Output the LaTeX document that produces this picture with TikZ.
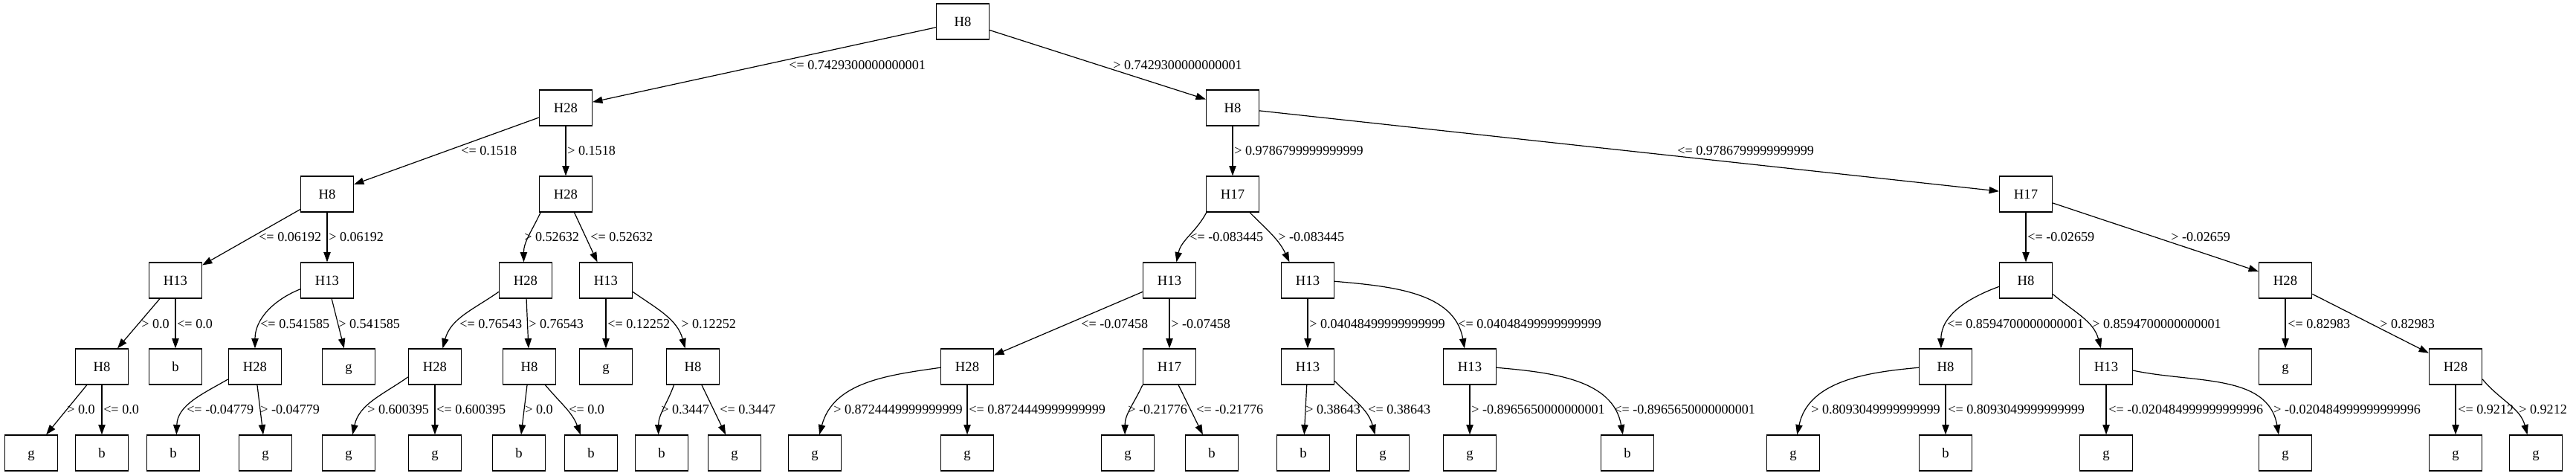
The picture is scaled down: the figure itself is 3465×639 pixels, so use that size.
\documentclass[tikz,border=0pt]{standalone}
\usepackage{fontspec}
\setmainfont{Liberation Serif}
\usetikzlibrary{arrows.meta}
\begin{document}
\begin{tikzpicture}[x=0.75pt,y=-0.75pt,
  box/.style={draw, line width=0.9pt, minimum width=53.25pt, minimum height=36pt, inner sep=0pt,
    text height=12pt, text depth=3pt, font=\fontsize{14}{16}\selectfont},
  lbl/.style={anchor=west, inner sep=0pt, text height=12pt, text depth=3pt, font=\fontsize{13.6}{16}\selectfont},
  conn/.style={draw, line width=0.9pt, -{Triangle[length=10pt,width=7pt]}}]
\useasboundingbox (0,0) rectangle (3465,639);
% level 0-2
\node[box] (r) at (1295,29) {H8};
\node[box] (a) at (761,145) {H28};
\node[box] (b) at (1658,145) {H8};
\node[box] (aa) at (440,261) {H8};
\node[box] (ab) at (761,261) {H28};
\node[box] (ba) at (1658,261) {H17};
\node[box] (bb) at (2725,261) {H17};
% level 3
\node[box] (aaa) at (236,377) {H13};
\node[box] (aab) at (440,377) {H13};
\node[box] (aba) at (707,377) {H28};
\node[box] (abb) at (815,377) {H13};
\node[box] (baa) at (1573,377) {H13};
\node[box] (bab) at (1759,377) {H13};
\node[box] (bba) at (2725,377) {H8};
\node[box] (bbb) at (3074,377) {H28};
% level 4
\node[box] (aaaa) at (137,493) {H8};
\node[box] (aaab) at (236,493) {b};
\node[box] (aaba) at (343,493) {H28};
\node[box] (aabb) at (469,493) {g};
\node[box] (abaa) at (585,493) {H28};
\node[box] (abab) at (712,493) {H8};
\node[box] (abba) at (815,493) {g};
\node[box] (abbb) at (932,493) {H8};
\node[box] (baaa) at (1301,493) {H28};
\node[box] (baab) at (1573,493) {H17};
\node[box] (baba) at (1759,493) {H13};
\node[box] (babb) at (1977,493) {H13};
\node[box] (bbaa) at (2617,493) {H8};
\node[box] (bbab) at (2833,493) {H13};
\node[box] (bbba) at (3074,493) {g};
\node[box] (bbbb) at (3303,493) {H28};
% level 5
\node[box] (aaaa1) at (42,609) {g};
\node[box] (aaaa2) at (137,609) {b};
\node[box] (aaba1) at (233,609) {b};
\node[box] (aaba2) at (357,609) {g};
\node[box] (abaa1) at (469,609) {g};
\node[box] (abaa2) at (585,609) {g};
\node[box] (abab1) at (698,609) {b};
\node[box] (abab2) at (795,609) {b};
\node[box] (abbb1) at (890,609) {b};
\node[box] (abbb2) at (988,609) {g};
\node[box] (baaa1) at (1096,609) {g};
\node[box] (baaa2) at (1301,609) {g};
\node[box] (baab1) at (1517,609) {g};
\node[box] (baab2) at (1630,609) {b};
\node[box] (baba1) at (1753,609) {b};
\node[box] (baba2) at (1860,609) {g};
\node[box] (babb1) at (1977,609) {g};
\node[box] (babb2) at (2189,609) {b};
\node[box] (bbaa1) at (2412,609) {g};
\node[box] (bbaa2) at (2617,609) {b};
\node[box] (bbab1) at (2833,609) {g};
\node[box] (bbab2) at (3074,609) {g};
\node[box] (bbbb1) at (3303,609) {g};
\node[box] (bbbb2) at (3411,609) {g};
% edges
\draw[conn] (r) -- (a);
\draw[conn] (r) -- (b);
\draw[conn] (a) -- (aa);
\draw[conn] (a) -- (ab);
\draw[conn] (b) -- (ba);
\draw[conn] (b) -- (bb);
\draw[conn] (aa) -- (aaa);
\draw[conn] (aa) -- (aab);
\draw[conn] (ab.-144) to[out=-115,in=90] (aba.96);
\draw[conn] (ab) -- (abb);
\draw[conn] (ba.-145) to[out=-118,in=78] (baa.69);
\draw[conn] (ba.-47) to[out=-45,in=115] (bab.135);
\draw[conn] (bb) -- (bba);
\draw[conn] (bb) -- (bbb);
\draw[conn] (aaa) -- (aaaa);
\draw[conn] (aaa) -- (aaab);
\draw[conn] (aab.198) to[out=-158,in=90] (aaba.north);
\draw[conn] (aab) -- (aabb);
\draw[conn] (aba.-157) to[out=-145,in=75] (abaa.67);
\draw[conn] (aba) -- (abab);
\draw[conn] (abb) -- (abba);
\draw[conn] (abb.-23) to[out=-35,in=105] (abbb.113);
\draw[conn] (baa) -- (baaa);
\draw[conn] (baa) -- (baab);
\draw[conn] (bab) -- (baba);
\draw[conn] (bab.-2) to[out=-5,in=100] (babb.106);
\draw[conn] (bba.-167) to[out=-160,in=90] (bbaa.104);
\draw[conn] (bba.-27) to[out=-40,in=105] (bbab.106);
\draw[conn] (bbb) -- (bbba);
\draw[conn] (bbb) -- (bbbb);
\draw[conn] (aaaa) -- (aaaa1);
\draw[conn] (aaaa) -- (aaaa2);
\draw[conn] (aaba.-155) to[out=-150,in=88] (aaba1.80);
\draw[conn] (aaba) -- (aaba2);
\draw[conn] (abaa.-159) to[out=-145,in=78] (abaa1.78);
\draw[conn] (abaa) -- (abaa2);
\draw[conn] (abab) -- (abab1);
\draw[conn] (abab.-49) to[out=-50,in=110] (abab2.120);
\draw[conn] (abbb.-136) to[out=-110,in=90] (abbb1.100);
\draw[conn] (abbb) -- (abbb2);
\draw[conn] (baaa.-178) to[out=-172,in=75] (baaa1.76);
\draw[conn] (baaa) -- (baaa2);
\draw[conn] (baab.south west) to[out=-115,in=90] (baab1.99);
\draw[conn] (baab) -- (baab2);
\draw[conn] (baba) -- (baba1);
\draw[conn] (baba.-28) to[out=-45,in=105] (baba2.113);
\draw[conn] (babb) -- (babb1);
\draw[conn] (babb.-2) to[out=-5,in=100] (babb2.104);
\draw[conn] (bbaa.-178) to[out=-175,in=78] (bbaa1.78);
\draw[conn] (bbaa) -- (bbaa2);
\draw[conn] (bbab) -- (bbab1);
\draw[conn] (bbab.-8) to[out=-12,in=100] (bbab2.110);
\draw[conn] (bbbb) -- (bbbb1);
\draw[conn] (bbbb.-25) to[out=-50,in=105] (bbbb2.115);
% labels
\node[lbl] (t01) at (1061,87) {<= 0.7429300000000001};
\node[lbl] (t02) at (1497,87) {> 0.7429300000000001};
\node[lbl] (t11) at (620,202) {<= 0.1518};
\node[lbl] (t12) at (763,202) {> 0.1518};
\node[lbl] (t13) at (1660,202) {> 0.9786799999999999};
\node[lbl] (t14) at (2256,202) {<= 0.9786799999999999};
\node[lbl] (t21) at (348,318) {<= 0.06192};
\node[lbl] (t22) at (442,318) {> 0.06192};
\node[lbl] (t23) at (705,318) {> 0.52632};
\node[lbl] (t24) at (794,318) {<= 0.52632};
\node[lbl] (t25) at (1600,318) {<= -0.083445};
\node[lbl] (t26) at (1719,318) {> -0.083445};
\node[lbl] (t27) at (2727,318) {<= -0.02659};
\node[lbl] (t28) at (2920,318) {> -0.02659};
\node[lbl] (t31) at (190,435) {> 0.0};
\node[lbl] (t32) at (238,435) {<= 0.0};
\node[lbl] (t33) at (350,435) {<= 0.541585};
\node[lbl] (t34) at (455,435) {> 0.541585};
\node[lbl] (t35) at (618,435) {<= 0.76543};
\node[lbl] (t36) at (711,435) {> 0.76543};
\node[lbl] (t37) at (817,435) {<= 0.12252};
\node[lbl] (t38) at (916,435) {> 0.12252};
\node[lbl] (t39) at (1454,435) {<= -0.07458};
\node[lbl] (t310) at (1575,435) {> -0.07458};
\node[lbl] (t311) at (1761,435) {> 0.04048499999999999};
\node[lbl] (t312) at (1961,435) {<= 0.04048499999999999};
\node[lbl] (t313) at (2619,435) {<= 0.8594700000000001};
\node[lbl] (t314) at (2814,435) {> 0.8594700000000001};
\node[lbl] (t315) at (3077,435) {<= 0.82983};
\node[lbl] (t316) at (3201,435) {> 0.82983};
\node[lbl] (t41) at (90,550) {> 0.0};
\node[lbl] (t42) at (139,550) {<= 0.0};
\node[lbl] (t43) at (251,550) {<= -0.04779};
\node[lbl] (t44) at (350,550) {> -0.04779};
\node[lbl] (t45) at (494,550) {> 0.600395};
\node[lbl] (t46) at (587,550) {<= 0.600395};
\node[lbl] (t47) at (706,550) {> 0.0};
\node[lbl] (t48) at (765,550) {<= 0.0};
\node[lbl] (t49) at (889,550) {> 0.3447};
\node[lbl] (t410) at (968,550) {<= 0.3447};
\node[lbl] (t411) at (1121,550) {> 0.8724449999999999};
\node[lbl] (t412) at (1303,550) {<= 0.8724449999999999};
\node[lbl] (t413) at (1517,550) {> -0.21776};
\node[lbl] (t414) at (1609,550) {<= -0.21776};
\node[lbl] (t415) at (1756,550) {> 0.38643};
\node[lbl] (t416) at (1840,550) {<= 0.38643};
\node[lbl] (t417) at (1979,550) {> -0.8965650000000001};
\node[lbl] (t418) at (2171,550) {<= -0.8965650000000001};
\node[lbl] (t419) at (2436,550) {> 0.8093049999999999};
\node[lbl] (t420) at (2620,550) {<= 0.8093049999999999};
\node[lbl] (t421) at (2836,550) {<= -0.020484999999999996};
\node[lbl] (t422) at (3058,550) {> -0.020484999999999996};
\node[lbl] (t423) at (3306,550) {<= 0.9212};
\node[lbl] (t424) at (3388,550) {> 0.9212};
\end{tikzpicture}
\end{document}
